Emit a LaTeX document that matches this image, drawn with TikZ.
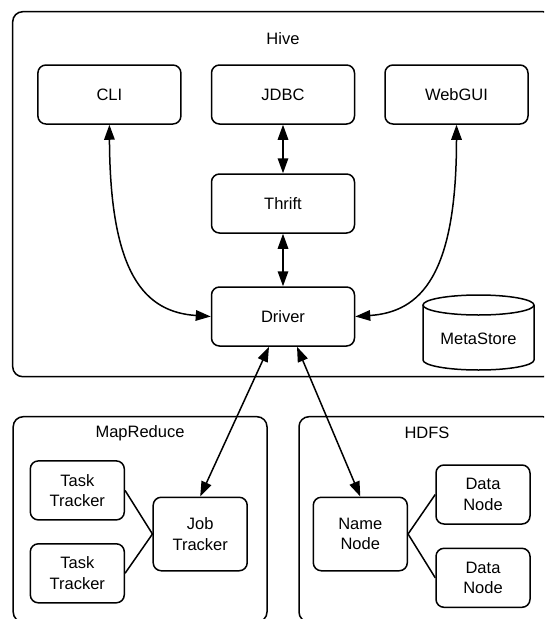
\documentclass[tikz,border=0pt]{standalone}
\usepackage{fontspec}
\setmainfont{Liberation Sans}
\usetikzlibrary{arrows.meta}
\begin{document}
\begin{tikzpicture}[x=1pt,y=-1pt,
  every node/.style={font=\fontsize{16.5}{20.5}\selectfont},
  box/.style={draw, line width=1.5pt, rounded corners=8pt, fill=white, align=center, inner sep=0pt},
  wide/.style={box, minimum width=143pt, minimum height=59pt},
  small/.style={box, minimum width=94pt, minimum height=59pt},
  tall/.style={box, minimum width=94pt, minimum height=73.5pt},
  frame/.style={draw, line width=1.5pt, rounded corners=10pt},
  arr/.style={line width=1.5pt, {Triangle[length=15pt,width=10.5pt]}-{Triangle[length=15pt,width=10.5pt]}},
  ln/.style={line width=1.5pt}]
\useasboundingbox (0,0) rectangle (544,619);
\fill[white] (0,0) rectangle (544,619);
\clip (0,0) rectangle (544,619);
% containers
\draw[frame] (12.7,11.7) rectangle (553,376.7);
\draw[frame] (13.2,416.7) rectangle (267,622);
\draw[frame] (299,416.7) rectangle (553,622);
\node (hive) at (283,38.5) {Hive};
\node (mapreduce) at (140,433) {MapReduce};
\node (hdfs) at (427,433) {HDFS};
% hive components
\node[wide] (cli) at (109.4,94.5) {CLI};
\node[wide] (jdbc) at (283,94.5) {JDBC};
\node[wide] (webgui) at (456.5,94.5) {WebGUI};
\node[wide] (thrift) at (283,203.5) {Thrift};
\node[wide] (driver) at (283,316.5) {Driver};
% metastore cylinder
\draw[line width=1.5pt, fill=white] (423,305) -- (423,360) arc[start angle=180, end angle=360, x radius=55.5pt, y radius=10pt] -- (534,305);
\draw[line width=1.5pt] (478.5,305) ellipse[x radius=55.5pt, y radius=10pt];
\node (metastore) at (478.5,339) {MetaStore};
% mapreduce
\node[small] (tt1) at (77.3,490.4) {Task\\Tracker};
\node[small] (tt2) at (77.3,573.3) {Task\\Tracker};
\node[tall] (jt) at (200.2,534) {Job\\Tracker};
% hdfs
\node[tall] (nn) at (360.3,534) {Name\\Node};
\node[small] (dn1) at (483,494.5) {Data\\Node};
\node[small] (dn2) at (483,577.8) {Data\\Node};
% connectors
\draw[arr] (cli.south) .. controls (110,275) and (145,312) .. (driver.west);
\draw[arr] (webgui.south) .. controls (456.5,275) and (421,312) .. (driver.east);
\draw[arr] (jdbc.south) -- (thrift.north);
\draw[arr] (thrift.south) -- (driver.north);
\draw[arr] ([xshift=-14pt]driver.south) -- (jt.north);
\draw[arr] ([xshift=14pt]driver.south) -- (nn.north);
\draw[ln] (tt1.east) -- (jt.west);
\draw[ln] (tt2.east) -- (jt.west);
\draw[ln] (nn.east) -- (dn1.west);
\draw[ln] (nn.east) -- (dn2.west);
\end{tikzpicture}
\end{document}
